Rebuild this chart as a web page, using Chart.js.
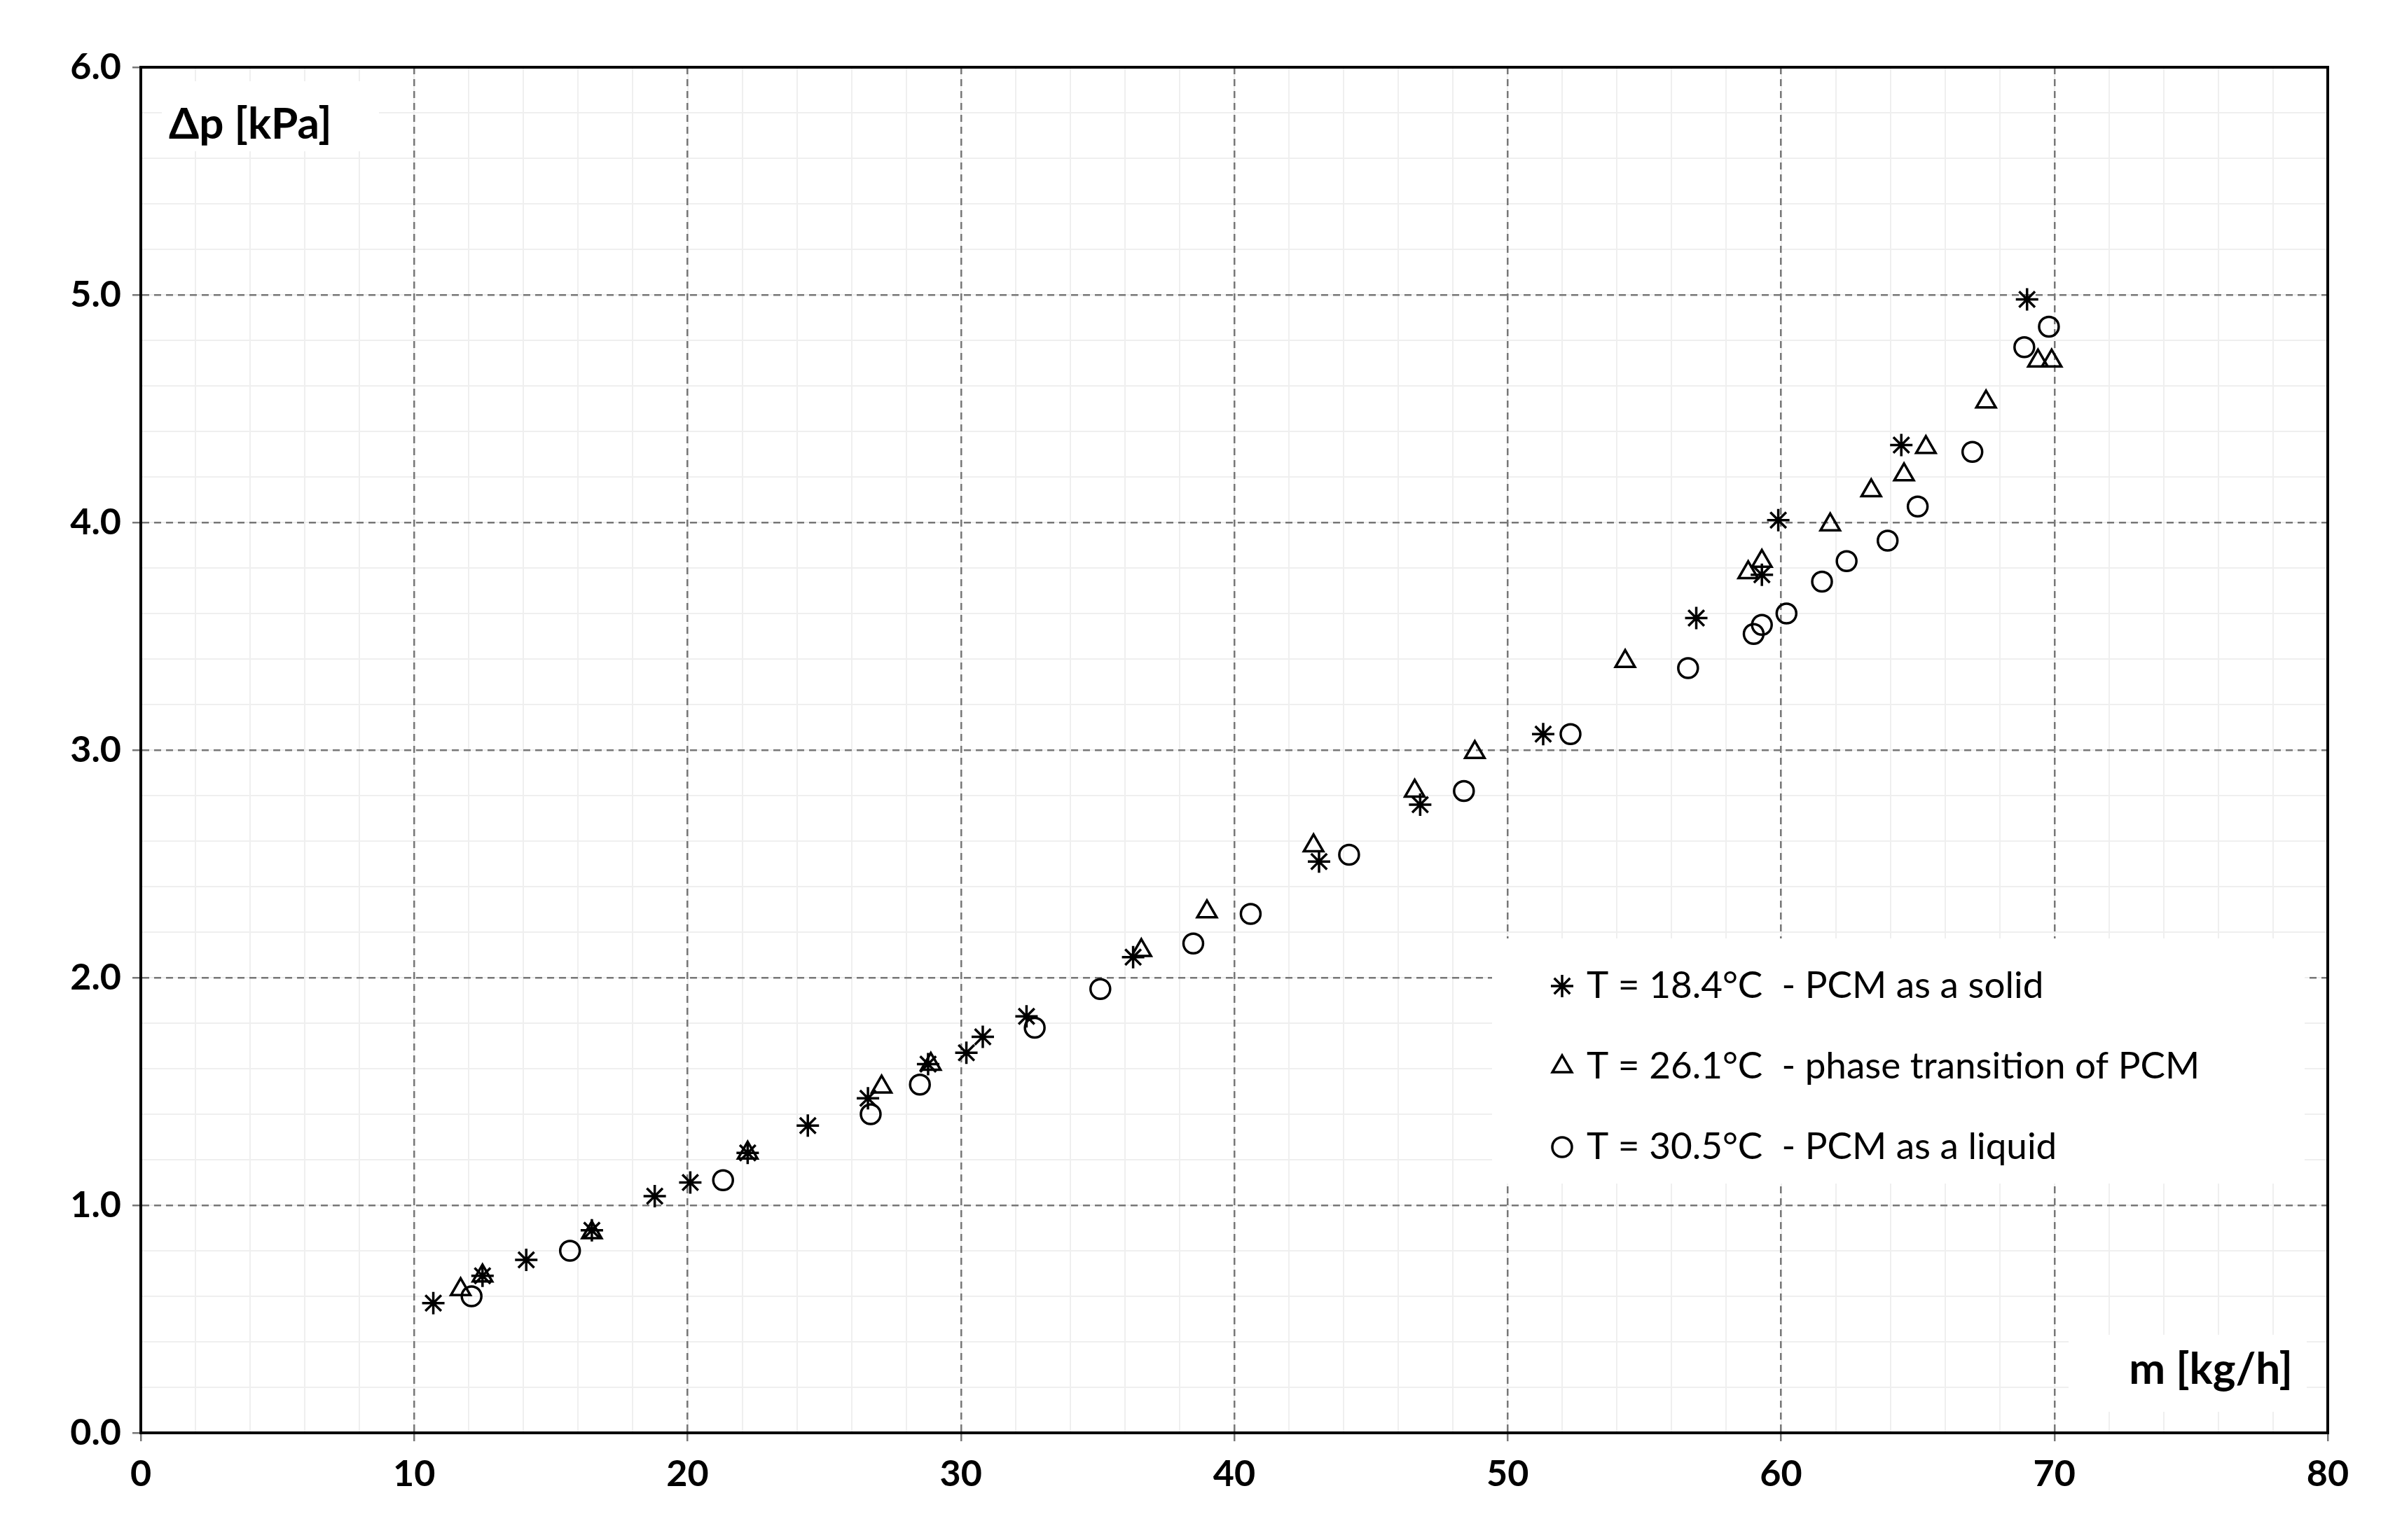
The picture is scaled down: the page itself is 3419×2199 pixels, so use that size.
<!DOCTYPE html>
<html>
<head>
<meta charset="utf-8">
<script src="https://cdn.jsdelivr.net/npm/chart.js@4.4.1/dist/chart.umd.min.js"></script>
<style>
  html, body { margin: 0; padding: 0; background: #fff; }
  #wrap { width: 3419px; height: 2199px; }
</style>
</head>
<body>
<div id="wrap"><canvas id="grafico"></canvas></div>
<script>
// dados: m [kg/h] e Δp [kPa]
var solidoM = [10.7, 12.5, 14.1, 16.5, 18.8, 20.1, 22.2, 24.4, 26.6, 28.8, 30.2, 30.8, 32.4, 36.3, 43.1, 46.8, 51.3, 56.9, 59.3, 59.9, 64.4, 69.0];
var solidoP = [0.57, 0.69, 0.76, 0.89, 1.04, 1.10, 1.23, 1.35, 1.47, 1.62, 1.67, 1.74, 1.83, 2.09, 2.51, 2.76, 3.07, 3.58, 3.77, 4.01, 4.34, 4.98];

var transicaoM = [11.7, 12.5, 16.5, 22.2, 27.1, 28.9, 36.6, 39.0, 42.9, 46.6, 48.8, 54.3, 58.8, 59.3, 61.8, 63.3, 64.5, 65.3, 67.5, 69.4, 69.9];
var transicaoP = [0.63, 0.69, 0.88, 1.23, 1.52, 1.62, 2.12, 2.29, 2.58, 2.82, 2.99, 3.39, 3.78, 3.83, 3.99, 4.14, 4.21, 4.33, 4.53, 4.71, 4.71];

var liquidoM = [12.1, 15.7, 21.3, 26.7, 28.5, 32.7, 35.1, 38.5, 40.6, 44.2, 48.4, 52.3, 56.6, 59.0, 59.3, 60.2, 61.5, 62.4, 63.9, 65.0, 67.0, 68.9, 69.8];
var liquidoP = [0.60, 0.80, 1.11, 1.40, 1.53, 1.78, 1.95, 2.15, 2.28, 2.54, 2.82, 3.07, 3.36, 3.51, 3.55, 3.60, 3.74, 3.83, 3.92, 4.07, 4.31, 4.77, 4.86];

var legendas = ['T = 18.4°C  - PCM as a solid', 'T = 26.1°C  - phase transition of PCM', 'T = 30.5°C  - PCM as a liquid'];
var estilos = ['star', 'triangle', 'circle'];

function montarPontos(xs, ys) {
    var pts = [];
    for (var i = 0; i < xs.length; i++) {
        pts.push({ x: xs[i], y: ys[i] });
    }
    return pts;
}

function serie(rotulo, xs, ys, estilo) {
    return {
        label: rotulo,
        data: montarPontos(xs, ys),
        pointStyle: estilo,
        pointRadius: estilo == 'circle' ? 14 : 16,
        pointBorderWidth: 3.5,
        pointBorderColor: '#000',
        pointBackgroundColor: 'rgba(0,0,0,0)',
        showLine: false
    };
}

var fonte = "Lato, 'Open Sans', sans-serif";

var textosPlugin = {
    id: 'textos',
    afterDatasetsDraw: function(chart) {
        var ctx = chart.ctx;
        var area = chart.chartArea;
        ctx.save();
        ctx.font = "bold 62px " + fonte;
        ctx.fillStyle = '#fff';
        ctx.fillRect(area.left + 30, area.top + 20, 310, 100);
        ctx.fillRect(area.right - 370, area.bottom - 140, 340, 110);
        ctx.fillStyle = '#000';
        ctx.textBaseline = 'middle';
        ctx.textAlign = 'left';
        ctx.fillText('Δp [kPa]', area.left + 40, area.top + 82);
        ctx.textAlign = 'right';
        ctx.fillText('m [kg/h]', area.right - 50, area.bottom - 90);

        // legenda
        var lx = 2130, ly = 1340;
        ctx.fillStyle = '#fff';
        ctx.fillRect(lx, ly, 1160, 350);
        ctx.font = "53px " + fonte;
        ctx.textAlign = 'left';
        for (var i = 0; i < legendas.length; i++) {
            var yy = ly + 68 + i * 115;
            ctx.strokeStyle = '#000';
            ctx.fillStyle = 'rgba(0,0,0,0)';
            ctx.lineWidth = 3.5;
            Chart.helpers.drawPoint(ctx, { pointStyle: estilos[i], radius: estilos[i] == 'circle' ? 14 : 16, rotation: 0, borderWidth: 3.5 }, lx + 100, yy);
            ctx.fillStyle = '#000';
            ctx.fillText(legendas[i], lx + 135, yy);
        }
        ctx.restore();
    }
};

var ctx = document.getElementById('grafico').getContext('2d');
new Chart(ctx, {
    type: 'scatter',
    data: {
        datasets: [
            serie(legendas[0], solidoM, solidoP, 'star'),
            serie(legendas[1], transicaoM, transicaoP, 'triangle'),
            serie(legendas[2], liquidoM, liquidoP, 'circle')
        ]
    },
    options: {
        responsive: true,
        maintainAspectRatio: false,
        animation: false,
        devicePixelRatio: 1,
        layout: { padding: { top: 96, right: 96, left: 0, bottom: 0 } },
        plugins: { legend: { display: false }, tooltip: { enabled: false } },
        scales: {
            xMenor: {
                type: 'linear', position: 'bottom', min: 0, max: 80,
                ticks: { stepSize: 2, display: false },
                grid: { color: '#efefef', lineWidth: 2, drawTicks: false },
                border: { display: false }
            },
            yMenor: {
                type: 'linear', position: 'left', min: 0, max: 6,
                ticks: { stepSize: 0.2, display: false },
                grid: { color: '#efefef', lineWidth: 2, drawTicks: false },
                border: { display: false }
            },
            x: {
                type: 'linear', position: 'bottom', min: 0, max: 80,
                ticks: { stepSize: 10, color: '#000', font: { size: 52, weight: 'bold', family: fonte }, padding: 16 },
                grid: { color: '#777', lineWidth: 2.5, drawTicks: true, tickLength: 12 },
                border: { color: '#000', width: 4, dash: [10, 7] },
                afterFit: function(s) { s.height = 153; }
            },
            y: {
                type: 'linear', position: 'left', min: 0, max: 6,
                ticks: { stepSize: 1, color: '#000', font: { size: 52, weight: 'bold', family: fonte }, padding: 16,
                    callback: function(v) { return v.toFixed(1); } },
                grid: { color: '#777', lineWidth: 2.5, drawTicks: true, tickLength: 12 },
                border: { color: '#000', width: 4, dash: [10, 7] },
                afterFit: function(s) { s.width = 201; }
            }
        }
    },
    plugins: [textosPlugin, {
        id: 'moldura',
        afterDraw: function(chart) {
            var a = chart.chartArea, c = chart.ctx;
            c.save();
            c.strokeStyle = '#000';
            c.lineWidth = 4;
            c.strokeRect(a.left, a.top, a.right - a.left, a.bottom - a.top);
            c.restore();
        }
    }]
});
</script>
</body>
</html>
